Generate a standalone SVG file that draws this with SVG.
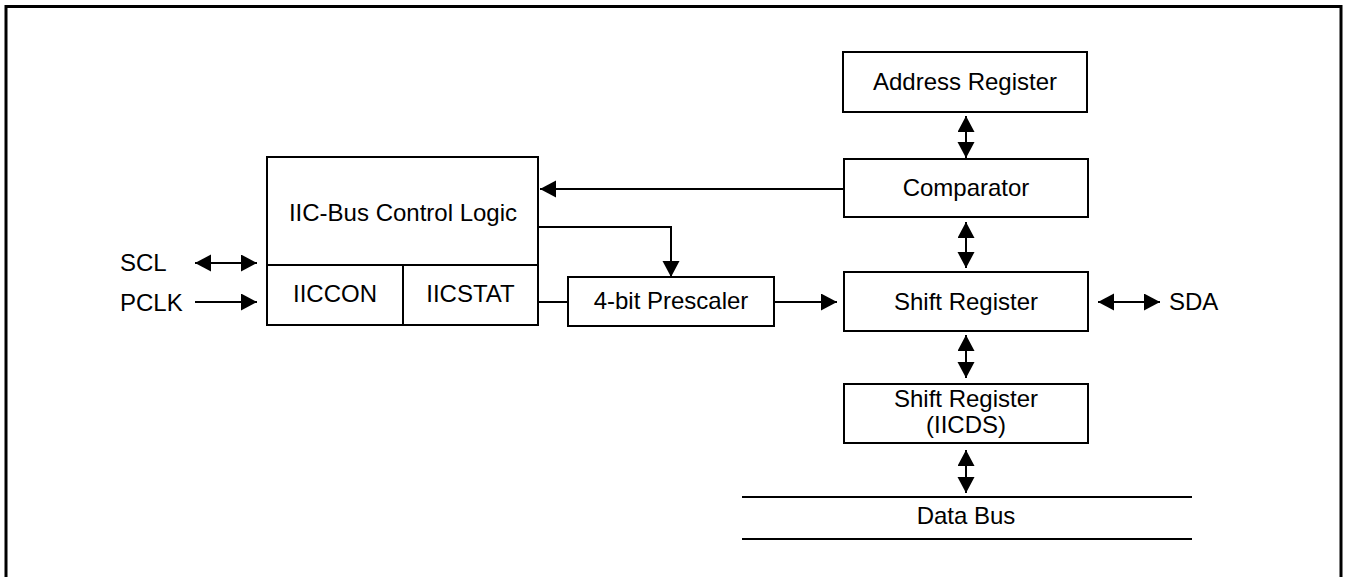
<svg xmlns="http://www.w3.org/2000/svg" width="1350" height="577" viewBox="0 0 1350 577">
<style>
.box{fill:#fff;stroke:#000;stroke-width:2}
.ln{fill:none;stroke:#000;stroke-width:2}
.t{font-family:"Liberation Sans",Arial,sans-serif;font-size:24px;fill:#000}
.c{text-anchor:middle}
</style>
<defs>
<marker id="ah" markerUnits="userSpaceOnUse" markerWidth="18" markerHeight="18" refX="16" refY="8.5" orient="auto-start-reverse" viewBox="0 0 18 18">
<path d="M0,0 L16,8.5 L0,17 z" fill="#000"/>
</marker>
</defs>
<rect x="6" y="6.5" width="1335" height="590" fill="none" stroke="#000" stroke-width="3"/>

<g id="iic">
<rect class="box" x="267" y="157" width="271" height="168"/>
<line class="ln" x1="267" y1="265" x2="538" y2="265"/>
<line class="ln" x1="403" y1="265" x2="403" y2="325"/>
<text class="t c" x="403" y="221">IIC-Bus Control Logic</text>
<text class="t c" x="335" y="302">IICCON</text>
<text class="t c" x="470.5" y="302">IICSTAT</text>
</g>
<g id="prescaler">
<rect class="box" x="568" y="277" width="206" height="49"/>
<text class="t c" x="671" y="309">4-bit Prescaler</text>
</g>
<g id="addr">
<rect class="box" x="843" y="52" width="244" height="60"/>
<text class="t c" x="965" y="90">Address Register</text>
</g>
<g id="comp">
<rect class="box" x="844" y="159" width="244" height="58"/>
<text class="t c" x="966" y="196">Comparator</text>
</g>
<g id="shift">
<rect class="box" x="844" y="272" width="244" height="59"/>
<text class="t c" x="966" y="310">Shift Register</text>
</g>
<g id="iicds">
<rect class="box" x="844" y="384" width="244" height="59"/>
<text class="t c" x="966" y="407">Shift Register</text>
<text class="t c" x="966" y="433">(IICDS)</text>
</g>
<g id="databus">
<line class="ln" x1="742" y1="497" x2="1192" y2="497"/>
<line class="ln" x1="742" y1="539" x2="1192" y2="539"/>
<text class="t c" x="966" y="524">Data Bus</text>
</g>
<g id="labels">
<text class="t" x="120" y="271">SCL</text>
<text class="t" x="120" y="311">PCLK</text>
<text class="t" x="1169" y="310">SDA</text>
</g>
<g id="connectors">
<line class="ln" x1="844" y1="189" x2="540" y2="189" marker-end="url(#ah)"/>
<path class="ln" d="M538,227 H671 V277" marker-end="url(#ah)"/>
<line class="ln" x1="538" y1="302" x2="568" y2="302"/>
<line class="ln" x1="774" y1="302" x2="837" y2="302" marker-end="url(#ah)"/>
<line class="ln" x1="195" y1="263" x2="257" y2="263" marker-start="url(#ah)" marker-end="url(#ah)"/>
<line class="ln" x1="195" y1="302" x2="257" y2="302" marker-end="url(#ah)"/>
<line class="ln" x1="1098" y1="302" x2="1160" y2="302" marker-start="url(#ah)" marker-end="url(#ah)"/>
<line class="ln" x1="966" y1="116" x2="966" y2="158" marker-start="url(#ah)" marker-end="url(#ah)"/>
<line class="ln" x1="966" y1="222" x2="966" y2="268" marker-start="url(#ah)" marker-end="url(#ah)"/>
<line class="ln" x1="966" y1="335" x2="966" y2="378" marker-start="url(#ah)" marker-end="url(#ah)"/>
<line class="ln" x1="966" y1="450" x2="966" y2="493" marker-start="url(#ah)" marker-end="url(#ah)"/>
</g>
</svg>
